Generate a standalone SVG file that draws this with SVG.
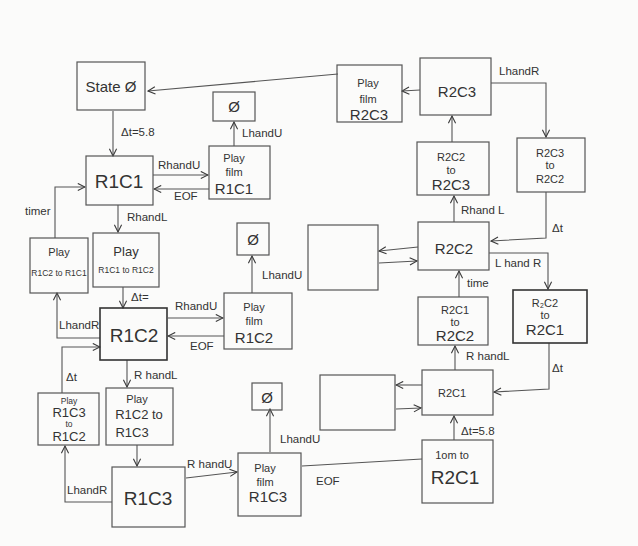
<svg xmlns="http://www.w3.org/2000/svg" width="638" height="546" viewBox="0 0 638 546">
<defs>
<marker id="ah" viewBox="0 0 10 10" refX="9" refY="5" markerWidth="9" markerHeight="9" markerUnits="userSpaceOnUse" orient="auto">
<path d="M1,1 L9,5 L1,9" fill="none" stroke="#3a3a3a" stroke-width="1.2"/>
</marker>
<style>
.b{fill:none;stroke:#555;stroke-width:1.2}
.bd{fill:none;stroke:#333;stroke-width:1.6}
.c{fill:none;stroke:#555;stroke-width:1.1;marker-end:url(#ah)}
.n{fill:none;stroke:#555;stroke-width:1.1}
text{font-family:"Liberation Sans","DejaVu Sans",sans-serif;fill:#333;text-anchor:middle}
.big{font-size:19px}
.mid{font-size:15px}
.m13{font-size:13px}
.sm{font-size:11px}
.xs{font-size:8.5px}
.lb{font-size:11.5px;text-anchor:start}
</style>
</defs>
<rect width="638" height="546" fill="#fbfbfa"/>

<g id="connectors">
<path class="c" d="M338,74 L148,91"/>
<path class="c" d="M420,90 L402,91"/>
<path class="c" d="M113,111 L113,156"/>
<path class="c" d="M153,175 L208,175"/>
<path class="c" d="M209,189 L154,189"/>
<path class="c" d="M234,146 L234,122"/>
<path class="c" d="M118,205 L118,232"/>
<path class="c" d="M55,238 L55,187 L85,187"/>
<path class="c" d="M123,287 L123,308"/>
<path class="c" d="M168,318 L223,318"/>
<path class="c" d="M224,336 L168,336"/>
<path class="c" d="M252,293 L252,256"/>
<path class="c" d="M100,338 L57,338 L57,293"/>
<path class="c" d="M62,393 L62,347 L100,347"/>
<path class="c" d="M127,360 L127,387"/>
<path class="c" d="M137,445 L137,466"/>
<path class="c" d="M112,502 L65,502 L65,446"/>
<path class="c" d="M186,478 L237,472"/>
<path class="c" d="M270,452 L270,409"/>
<path class="n" d="M302,466 L422,459"/>
<path class="c" d="M454,440 L454,416"/>
<path class="c" d="M422,385 L396,385"/>
<path class="c" d="M396,409 L421,408"/>
<path class="c" d="M455,370 L455,346"/>
<path class="c" d="M459,297 L459,271"/>
<path class="c" d="M418,247 L379,251"/>
<path class="c" d="M379,263 L417,261"/>
<path class="c" d="M489,253 L548,253 L548,289"/>
<path class="c" d="M549,343 L549,389 L494,392"/>
<path class="c" d="M454,222 L454,196"/>
<path class="c" d="M452,142 L452,116"/>
<path class="c" d="M491,83 L546,83 L546,137"/>
<path class="c" d="M546,192 L546,238 L491,241"/>
</g>

<g id="labels">
<text class="lb" x="121" y="136">Δt=5.8</text>
<text class="lb" x="158" y="169">RhandU</text>
<text class="lb" x="174" y="200">EOF</text>
<text class="lb" x="242" y="137">LhandU</text>
<text class="lb" x="127" y="221">RhandL</text>
<text class="lb" x="25" y="215">timer</text>
<text class="lb" x="131" y="301">Δt=</text>
<text class="lb" x="175" y="310">RhandU</text>
<text class="lb" x="190" y="350">EOF</text>
<text class="lb" x="262" y="279">LhandU</text>
<text class="lb" x="59" y="329">LhandR</text>
<text class="lb" x="66" y="381">Δt</text>
<text class="lb" x="134" y="379">R handL</text>
<text class="lb" x="67" y="494">LhandR</text>
<text class="lb" x="187" y="468">R handU</text>
<text class="lb" x="280" y="443">LhandU</text>
<text class="lb" x="316" y="485">EOF</text>
<text class="lb" x="461" y="435">Δt=5.8</text>
<text class="lb" x="466" y="360">R handL</text>
<text class="lb" x="467" y="287">time</text>
<text class="lb" x="495" y="267">L hand R</text>
<text class="lb" x="552" y="372">Δt</text>
<text class="lb" x="461" y="214">Rhand L</text>
<text class="lb" x="499" y="75">LhandR</text>
<text class="lb" x="552" y="232">Δt</text>
</g>

<g id="state0"><rect class="b" x="77" y="62" width="68" height="48"/><text class="mid" x="111" y="92">State Ø</text></g>
<g id="null1"><rect class="b" x="213" y="92" width="42" height="29"/><text class="mid" x="234" y="112">Ø</text></g>
<g id="r1c1"><rect class="b" x="86" y="156" width="67" height="49"/><text class="big" x="119" y="188">R1C1</text></g>
<g id="film-r1c1"><rect class="b" x="209" y="146" width="61" height="53"/><text class="sm" x="234" y="162">Play</text><text class="sm" x="234" y="176">film</text><text class="mid" x="234" y="194">R1C1</text></g>
<g id="r1c2-to-r1c1"><rect class="b" x="30" y="238" width="58" height="55"/><text class="sm" x="59" y="256">Play</text><text class="xs" x="59" y="276">R1C2 to R1C1</text></g>
<g id="r1c1-to-r1c2"><rect class="b" x="93" y="233" width="66" height="54"/><text class="m13" x="126" y="256">Play</text><text class="xs" x="126" y="273">R1C1 to R1C2</text></g>
<g id="null2"><rect class="b" x="237" y="223" width="32" height="32"/><text class="mid" x="253" y="245">Ø</text></g>
<g id="r1c2"><rect class="bd" x="100" y="308" width="67" height="52"/><text class="big" x="134" y="342">R1C2</text></g>
<g id="film-r1c2"><rect class="b" x="224" y="293" width="68" height="56"/><text class="sm" x="254" y="311">Play</text><text class="sm" x="254" y="325">film</text><text class="mid" x="254" y="343">R1C2</text></g>
<g id="r1c3-to-r1c2"><rect class="b" x="38" y="393" width="61" height="52"/><text class="xs" x="69" y="404">Play</text><text class="m13" x="69" y="417">R1C3</text><text class="xs" x="69" y="427">to</text><text class="m13" x="69" y="441">R1C2</text></g>
<g id="r1c2-to-r1c3"><rect class="b" x="106" y="388" width="67" height="57"/><text class="sm" x="137" y="403">Play</text><text class="m13" x="139" y="419">R1C2 to</text><text class="m13" x="132" y="437">R1C3</text></g>
<g id="r1c3"><rect class="b" x="112" y="467" width="73" height="60"/><text class="big" x="148" y="505">R1C3</text></g>
<g id="null3"><rect class="b" x="252" y="383" width="30" height="27"/><text class="mid" x="267" y="403">Ø</text></g>
<g id="film-r1c3"><rect class="b" x="238" y="453" width="63" height="63"/><text class="sm" x="265" y="472">Play</text><text class="sm" x="265" y="486">film</text><text class="mid" x="268" y="502">R1C3</text></g>
<g id="empty-top"><rect class="b" x="308" y="225" width="70" height="65"/></g>
<g id="r2c2"><rect class="b" x="418" y="222" width="71" height="48"/><text class="mid" x="454" y="254">R2C2</text></g>
<g id="film-r2c3"><rect class="b" x="337" y="65" width="65" height="57"/><text class="sm" x="368" y="87">Play</text><text class="sm" x="368" y="103">film</text><text class="mid" x="369" y="120">R2C3</text></g>
<g id="r2c3"><rect class="b" x="420" y="58" width="71" height="57"/><text class="mid" x="457" y="97">R2C3</text></g>
<g id="r2c3-to-r2c2"><rect class="b" x="517" y="138" width="68" height="54"/><text class="sm" x="550" y="157">R2C3</text><text class="sm" x="550" y="169">to</text><text class="sm" x="550" y="183">R2C2</text></g>
<g id="r2c2-to-r2c3"><rect class="b" x="417" y="142" width="72" height="53"/><text class="sm" x="451" y="161">R2C2</text><text class="sm" x="451" y="174">to</text><text class="mid" x="451" y="190">R2C3</text></g>
<g id="r2c2-to-r2c1"><rect class="bd" x="513" y="290" width="74" height="53"/><text class="sm" x="545" y="307">R₂C2</text><text class="sm" x="545" y="319">to</text><text class="mid" x="545" y="335">R2C1</text></g>
<g id="r2c1-to-r2c2"><rect class="b" x="418" y="297" width="70" height="48"/><text class="sm" x="455" y="314">R2C1</text><text class="sm" x="455" y="326">to</text><text class="mid" x="455" y="341">R2C2</text></g>
<g id="empty-bottom"><rect class="b" x="320" y="375" width="75" height="55"/></g>
<g id="r2c1"><rect class="b" x="422" y="370" width="71" height="45"/><text class="sm" x="452" y="397">R2C1</text></g>
<g id="pan-r2c1"><rect class="b" x="422" y="440" width="71" height="63"/><text class="sm" x="452" y="459">1om to</text><text class="big" x="455" y="484">R2C1</text></g>
</svg>
